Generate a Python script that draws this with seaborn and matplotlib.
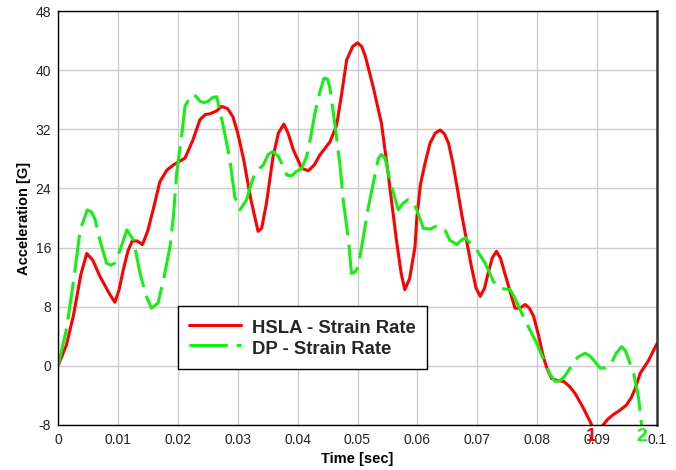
import matplotlib
matplotlib.use("Agg")
import matplotlib.pyplot as plt
import matplotlib.transforms as mtransforms
import seaborn as sns
import pandas as pd

# HSLA - Strain Rate
hsla_t = [0, 0.0014, 0.0026, 0.0038, 0.0048, 0.0058, 0.0070, 0.0087, 0.0095, 0.0102,
          0.0109, 0.0117, 0.0124, 0.0132, 0.0141, 0.0150, 0.0160, 0.0170, 0.0182, 0.0193,
          0.0212, 0.0225, 0.0237, 0.0246, 0.0254, 0.0265, 0.0273, 0.0283, 0.0292, 0.0300,
          0.0310, 0.0322, 0.0334, 0.0340, 0.0348, 0.0359, 0.0368, 0.0377, 0.0384, 0.0393,
          0.0407, 0.0418, 0.0428, 0.0437, 0.0454, 0.0465, 0.0473, 0.0482, 0.0492, 0.0500,
          0.0507, 0.0513, 0.0526, 0.0540, 0.0551, 0.0565, 0.0573, 0.0579, 0.0587, 0.0596,
          0.0599, 0.0605, 0.0613, 0.0621, 0.0630, 0.0638, 0.0645, 0.0652, 0.0659, 0.0666,
          0.0674, 0.0682, 0.0690, 0.0698, 0.0705, 0.0712, 0.0718, 0.0725, 0.0732, 0.0739,
          0.0746, 0.0755, 0.0763, 0.0771, 0.0780, 0.0787, 0.0794, 0.0802, 0.0810, 0.0817,
          0.0824, 0.0834, 0.0844, 0.0853, 0.0863, 0.0870, 0.0877, 0.0885, 0.0891, 0.0900,
          0.0910, 0.0918, 0.0927, 0.0938, 0.0949, 0.0957, 0.0963, 0.0972, 0.0985, 0.1000]
hsla_g = [0, 2.8, 6.9, 12.3, 15.2, 14.3, 12.1, 9.6, 8.6, 10.3,
          13.0, 15.6, 16.9, 16.9, 16.4, 18.3, 21.5, 24.9, 26.5, 27.2,
          28.1, 30.5, 33.3, 34.0, 34.1, 34.5, 35.1, 34.8, 33.7, 31.5,
          27.9, 22.5, 18.2, 18.6, 22.0, 28.3, 31.5, 32.7, 31.5, 29.2,
          26.7, 26.4, 27.2, 28.5, 30.3, 32.5, 36.5, 41.4, 43.2, 43.7,
          43.2, 41.9, 37.8, 32.8, 26.1, 17.0, 12.5, 10.3, 11.8, 16.1,
          20.0, 24.5, 27.5, 30.1, 31.5, 31.9, 31.4, 30.1, 27.5, 24.3,
          20.5, 17.0, 13.5, 10.5, 9.4, 10.5, 12.5, 14.6, 15.5, 14.5,
          12.5, 10.0, 7.8, 7.8, 8.3, 7.8, 6.7, 4.2, 1.3, -0.5,
          -1.7, -2.0, -2.1, -2.7, -3.7, -4.7, -5.7, -7.0, -8.0, -9.0,
          -8.0, -7.2, -6.6, -6.0, -5.3, -4.3, -3.2, -1.0, 0.6, 3.0]

# DP - Strain Rate
dp_t = [0, 0.0014, 0.0026, 0.0037, 0.0049, 0.0056, 0.0062, 0.0070, 0.0081, 0.0088,
        0.0095, 0.0105, 0.0115, 0.0126, 0.0137, 0.0147, 0.0156, 0.0167, 0.0176, 0.0187,
        0.0193, 0.0198, 0.0207, 0.0212, 0.0223, 0.0230, 0.0237, 0.0244, 0.0251, 0.0258,
        0.0265, 0.0276, 0.0287, 0.0295, 0.0304, 0.0315, 0.0322, 0.0329, 0.0343, 0.0351,
        0.0359, 0.0368, 0.0376, 0.0382, 0.0390, 0.0398, 0.0407, 0.0415, 0.0422, 0.0429,
        0.0437, 0.0444, 0.0450, 0.0454, 0.0462, 0.0471, 0.0476, 0.0485, 0.0490, 0.0496,
        0.0501, 0.0510, 0.0517, 0.0524, 0.0535, 0.0540, 0.0546, 0.0553, 0.0560, 0.0568,
        0.0576, 0.0585, 0.0592, 0.0599, 0.0610, 0.0621, 0.0632, 0.0639, 0.0646, 0.0654,
        0.0666, 0.0673, 0.0680, 0.0699, 0.0713, 0.0727, 0.0738, 0.0746, 0.0755, 0.0763,
        0.0772, 0.0782, 0.0799, 0.0813, 0.0822, 0.0830, 0.0838, 0.0846, 0.0858, 0.0868,
        0.0880, 0.0887, 0.0894, 0.0905, 0.0913, 0.0922, 0.0932, 0.0941, 0.0947, 0.0952,
        0.0961, 0.0969, 0.0974, 0.0978]
dp_g = [0, 4.9, 11.5, 18.4, 21.1, 20.8, 19.8, 17.0, 13.9, 13.6,
        13.9, 16.0, 18.4, 17.0, 12.5, 9.5, 7.8, 8.5, 11.6, 16.1,
        20.5, 26.0, 31.5, 35.1, 36.7, 36.5, 35.8, 35.6, 35.8, 36.3,
        36.4, 32.4, 27.9, 22.9, 21.1, 22.5, 24.5, 26.1, 27.2, 28.6,
        29.0, 28.3, 27.0, 25.8, 25.7, 26.3, 26.7, 28.3, 31.0, 34.2,
        37.0, 38.9, 38.8, 37.6, 32.8, 27.0, 22.5, 17.0, 12.5, 12.7,
        13.4, 17.5, 21.0, 23.8, 28.1, 28.6, 28.1, 25.5, 23.4, 21.1,
        22.0, 22.5, 22.2, 21.1, 18.6, 18.5, 18.9, 18.8, 18.4, 17.0,
        16.4, 17.0, 17.3, 15.7, 13.9, 11.4, 10.5, 10.4, 10.3, 9.1,
        7.5, 5.8, 3.1, 0.4, -1.2, -2.1, -2.0, -1.4, 0.1, 1.2,
        1.7, 1.4, 0.8, -0.3, -0.3, 0.1, 1.7, 2.6, 2.1, 1.0,
        -1.0, -4.2, -7.8, -10.5]

x_ticks = [0, 0.01, 0.02, 0.03, 0.04, 0.05, 0.06, 0.07, 0.08, 0.09, 0.1]
x_tick_labels = ["0", "0.01", "0.02", "0.03", "0.04", "0.05", "0.06", "0.07", "0.08", "0.09", "0.1"]
y_ticks = [-8, 0, 8, 16, 24, 32, 40, 48]

# Off-scale markers under the x axis
marker_labels = ["1", "2"]
marker_t = [0.0890, 0.0974]

sns.set_theme(style="whitegrid")
plt.rcParams["font.family"] = ["Liberation Sans", "DejaVu Sans"]
plt.rcParams["axes.unicode_minus"] = False

fig = plt.figure(figsize=(6.76, 4.70), dpi=100)
ax = fig.add_axes([58 / 676, 1 - 425 / 470, 599 / 676, 414 / 470])

hsla_df = pd.DataFrame({"t": hsla_t, "g": hsla_g})
dp_df = pd.DataFrame({"t": dp_t, "g": dp_g})

red = "#FF0000"
green = "#14F014"

sns.lineplot(data=hsla_df, x="t", y="g", ax=ax, color=red, lw=2.2,
             sort=False, estimator=None, label="HSLA - Strain Rate")
sns.lineplot(data=dp_df, x="t", y="g", ax=ax, color=green, lw=2.2,
             sort=False, estimator=None, label="DP - Strain Rate")
ax.lines[1].set_dashes((12.5, 3.0))

ax.set_xlim(0, 0.1)
ax.set_ylim(-8, 48)
ax.set_xticks(x_ticks)
ax.set_xticklabels(x_tick_labels)
ax.set_yticks(y_ticks)
ax.tick_params(axis="both", length=0, labelsize=10, colors="#222222")
ax.tick_params(axis="x", pad=6)
ax.tick_params(axis="y", pad=5)

ax.grid(True, color="#CCCCCC", lw=1.0)
ax.set_facecolor("white")
for side in ["left", "bottom", "top"]:
    ax.spines[side].set_color("black")
    ax.spines[side].set_linewidth(1.0)
ax.spines["right"].set_color("#333333")
ax.spines["right"].set_linewidth(1.8)

ax.set_xlabel("Time [sec]", fontsize=10.5, fontweight="bold", color="black", labelpad=3)
ax.set_ylabel("Acceleration [G]", fontsize=10.5, fontweight="bold", color="black", labelpad=3)

trans = mtransforms.blended_transform_factory(ax.transData, ax.transAxes)
for lbl, t, c in zip(marker_labels, marker_t, [red, green]):
    ax.text(t, -0.027, lbl, transform=trans, color=c, fontsize=14, fontweight="bold",
            ha="center", va="center", clip_on=False)

leg = ax.legend(loc="upper left", bbox_to_anchor=(0.2003, 0.2874), borderaxespad=0,
                frameon=True, fancybox=False, framealpha=1, edgecolor="black",
                prop={"size": 13.3, "weight": "bold"}, handlelength=2.8,
                handleheight=1.30, handletextpad=0.63, labelspacing=0.0, borderpad=0.6)
leg.get_frame().set_linewidth(1.0)

fig.savefig("out.png", dpi=100)
